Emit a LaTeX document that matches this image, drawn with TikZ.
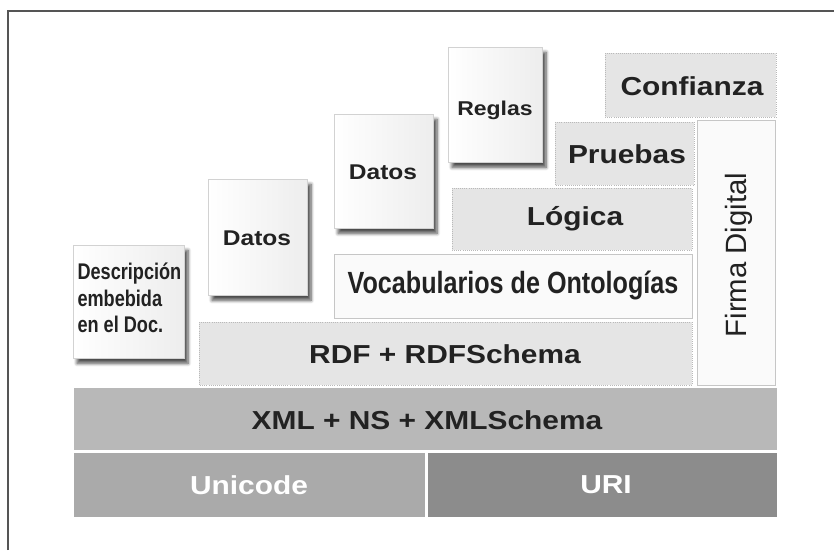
\documentclass[tikz,border=0pt]{standalone}
\usepackage{fontspec}
\setmainfont{Liberation Sans}
\newfontfamily\widefont[FakeStretch=1.15]{Liberation Sans}
\newfontfamily\narrowfont[FakeStretch=0.82]{Liberation Sans}
\newfontfamily\descfont[FakeStretch=0.8]{Liberation Sans}
\usetikzlibrary{shadows.blur}

\definecolor{inkgray}{RGB}{34,34,34}
\definecolor{layergray}{RGB}{229,229,229}
\definecolor{xmlgray}{RGB}{184,184,184}
\definecolor{unigray}{RGB}{170,170,170}
\definecolor{urigray}{RGB}{140,140,140}
\definecolor{framegray}{RGB}{85,85,85}

\tikzset{every picture/.style={line width=0.75pt}}

\begin{document}
\begin{tikzpicture}[x=0.75pt,y=0.75pt,yscale=-1,xscale=1,
	layer/.style={fill=layergray, draw=gray!55, densely dotted, line width=0.6pt},
	paleLayer/.style={fill=gray!4, draw=gray!45, line width=0.6pt},
	baseLayer/.style={draw=white, line width=1.2pt},
	datbox/.style={left color=white, right color=gray!14, draw=gray!35, line width=0.5pt,
		blur shadow={shadow xshift=3pt, shadow yshift=-4pt, shadow blur radius=2.5pt, shadow blur steps=6, shadow opacity=70}},
	lbl/.style={inner sep=0.75pt, text=inkgray, font=\widefont\bfseries\fontsize{19.5}{22}\selectfont},
	smalllbl/.style={inner sep=0.75pt, text=inkgray, font=\widefont\bfseries\fontsize{16}{18}\selectfont},
	whitelbl/.style={inner sep=0.75pt, text=white, font=\widefont\bfseries\fontsize{19.5}{22}\selectfont}
	]
	\useasboundingbox (0,0) rectangle (834,550);
	
	%Frame
	\draw [framegray, line width=1.5pt] (8,550) -- (8,11) -- (834,11) ;
	
	%Shape: Unicode / URI
	\draw [baseLayer, fill=unigray] (73,452) rectangle (426,518) ;
	\draw [baseLayer, fill=urigray] (427,452) rectangle (778,518) ;
	%Shape: XML
	\draw [baseLayer, fill=xmlgray] (73,387) rectangle (778,451) ;
	
	%Shape: upper layers
	\draw [layer] (199,322) rectangle (692,385) ;
	\draw [paleLayer] (334,254) rectangle (692,318) ;
	\draw [layer] (452,188) rectangle (692,250) ;
	\draw [layer] (555,122) rectangle (694,185) ;
	\draw [layer] (605,53) rectangle (776,117) ;
	\draw [paleLayer] (697,120) rectangle (775,385) ;
	
	%Shape: boxes with shadow
	\draw [datbox] (73,245) rectangle (184,358) ;
	\draw [datbox] (208,179) rectangle (307,295) ;
	\draw [datbox] (334,114) rectangle (433,228) ;
	\draw [datbox] (448,47) rectangle (542,162) ;
	
	\draw (249,485) node [whitelbl] (unicode) {Unicode};
	\draw (606,485) node [whitelbl] (uri) {URI};
	\draw (427,420) node [lbl] (xml) {XML + NS + XMLSchema};
	\draw (445,354) node [lbl] (rdf) {RDF + RDFSchema};
	\draw (513,285) node [inner sep=0.75pt, text=inkgray, font=\narrowfont\bfseries\fontsize{23}{26}\selectfont] (vocab) {Vocabularios de Ontologías};
	\draw (575,219) node [lbl] (logica) {Lógica};
	\draw (627,154) node [lbl] (pruebas) {Pruebas};
	\draw (692,86) node [lbl] (confianza) {Confianza};
	\draw (739,255) node [rotate=90, inner sep=0.75pt, text=inkgray, font=\fontsize{22}{24}\selectfont] (firma) {Firma Digital};
	\draw (495,110) node [smalllbl, font=\widefont\bfseries\fontsize{15}{17}\selectfont] (reglas) {Reglas};
	\draw (383,172) node [smalllbl] (datosB) {Datos};
	\draw (257,238) node [smalllbl] (datosA) {Datos};
	\draw (76,298) node [anchor=west, align=left, inner sep=0.75pt, text=inkgray, font=\descfont\bfseries\fontsize{17}{20}\selectfont] (desc) {Descripción\\embebida\\en el Doc.};
	
\end{tikzpicture}
\end{document}
